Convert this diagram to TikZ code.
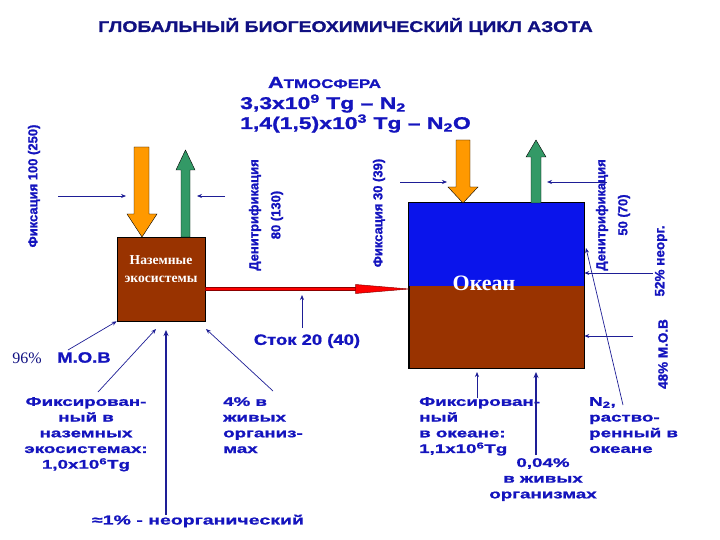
\documentclass[tikz,border=0pt]{standalone}
\usepackage{fontspec}
\setmainfont{Liberation Serif}
\newfontfamily\titlef[FakeStretch=1.25,BoldFeatures={FakeBold=1.2}]{Liberation Sans}
\newfontfamily\atmf[FakeStretch=1.35,BoldFeatures={FakeBold=1.2}]{Liberation Sans}
\newfontfamily\labf[FakeStretch=1.5,BoldFeatures={FakeBold=1.2}]{Liberation Sans}
\newfontfamily\midf[FakeStretch=1.23,BoldFeatures={FakeBold=1.2}]{Liberation Sans}
\newfontfamily\rotf[BoldFeatures={FakeBold=1.2}]{Liberation Sans}
\usetikzlibrary{arrows.meta,calc}
\definecolor{titleblue}{RGB}{16,16,130}
\definecolor{txtblue}{RGB}{20,20,190}
\definecolor{lineblue}{RGB}{30,30,150}
\definecolor{brownbox}{RGB}{153,51,0}
\definecolor{oceanblue}{RGB}{10,20,235}
\definecolor{arrorange}{RGB}{255,153,0}
\definecolor{arrgreen}{RGB}{51,153,102}
\begin{document}
\begin{tikzpicture}[x=1pt,y=-1pt,
  thinarr/.style={draw=lineblue, line width=0.7pt, -{Stealth[length=5pt,width=4pt]}},
  thickarr/.style={draw=lineblue, line width=1.4pt, -{Stealth[length=6pt,width=5pt]}},
  box/.style={draw=black, line width=0.6pt, fill=brownbox, inner sep=0pt},
  orangearr/.style={draw=black, line width=0.4pt, fill=arrorange},
  greenarr/.style={draw=black, line width=0.4pt, fill=arrgreen},
  lab/.style={text=txtblue, font=\labf\bfseries\fontsize{12.5}{15.7}\selectfont, inner sep=0pt},
  mid/.style={text=txtblue, font=\midf\bfseries\fontsize{15}{18}\selectfont, inner sep=0pt},
  rot/.style={text=txtblue, font=\rotf\bfseries\fontsize{13}{22}\selectfont, inner sep=0pt, rotate=90, align=center},
  atm/.style={text=txtblue, font=\atmf\bfseries\fontsize{17}{20}\selectfont, inner sep=0pt, anchor=base west},
  boxtext/.style={text=white, font=\bfseries\fontsize{13.6}{18}\selectfont, align=center, inner sep=0pt}
]
\useasboundingbox[fill=white] (0,0) rectangle (720,540);

% title
\node[text=titleblue, font=\titlef\bfseries\fontsize{15.5}{18}\selectfont, inner sep=0pt] (title) at (345.5,26.5) {ГЛОБАЛЬНЫЙ БИОГЕОХИМИЧЕСКИЙ ЦИКЛ АЗОТА};

% atmosphere
\node[text=txtblue, font=\atmf\bfseries, inner sep=0pt, anchor=base] (atmname) at (324.5,88) {{\fontsize{16}{18}\selectfont А}{\fontsize{12.5}{18}\selectfont ТМОСФЕРА}};
\node[atm] (atm1) at (240,109) {3,3x10\textsuperscript{9} Tg – N\textsubscript{2}};
\node[atm] (atm2) at (240,129) {1,4(1,5)x10\textsuperscript{3} Tg – N\textsubscript{2}O};

% boxes
\node[box, minimum width=88pt, minimum height=84pt] (land) at (161,279) {};
\node[boxtext] (landtxt) at (161,269) {Наземные\\экосистемы};
\node[box, minimum width=175pt, minimum height=165pt] (ocean) at (496.5,285.5) {};
\fill[oceanblue] (ocean.north west) rectangle ($(ocean.north east)+(0,83)$);
\draw[line width=0.6pt] (ocean.north west) rectangle (ocean.south east);
\node[text=white, font=\bfseries\fontsize{22}{24}\selectfont, inner sep=0pt, anchor=base] (oceantxt) at (484,290) {Океан};

% big arrows land
\draw[orangearr] (134,147) -- (149,147) -- (149,214) -- (157,214) -- (142,237) -- (127,214) -- (134,214) -- cycle;
\draw[greenarr] (181,237) -- (181,170) -- (176,170) -- (185.5,150) -- (195,170) -- (190,170) -- (190,237) -- cycle;
% big arrows ocean
\draw[orangearr] (456,140) -- (470,140) -- (470,187) -- (478,187) -- (463,203) -- (448,187) -- (456,187) -- cycle;
\draw[greenarr] (531,203) -- (531,157) -- (526,157) -- (536,140) -- (546,157) -- (541,157) -- (541,203) -- cycle;

% red flow
\draw[line width=4.4pt, draw=red!55!black] ($(land.east)+(0,10)$) -- ($(ocean.west)+(-50,3.5)$);
\draw[line width=2.8pt, draw=red] ($(land.east)+(0.5,10)$) -- ($(ocean.west)+(-50,3.5)$);
\draw[fill=red, draw=red!55!black, line width=0.5pt] ($(ocean.west)+(-53,-1)$) -- ($(ocean.west)+(0,3.5)$) -- ($(ocean.west)+(-53,8)$) -- cycle;

% rotated labels
\node[rot] (fix1) at (34,186) {Фиксация 100 (250)};
\node[rot] (den1) at (266,215) {Денитрификация\\80 (130)};
\node[rot] (fix2) at (379,213) {Фиксация 30 (39)};
\node[rot] (den2) at (613,215) {Денитрификация\\50 (70)};
\node[rot, font=\rotf\bfseries\fontsize{13.5}{16}\selectfont] (neorg) at (661,261) {52\% неорг.};
\node[rot, font=\rotf\bfseries\fontsize{13.5}{16}\selectfont] (mov2) at (663,354) {48\% М.О.В};

% other labels
\node[mid] (stok) at (307,341) {Сток 20 (40)};
\node[inner sep=0pt, font=\fontsize{16}{18}\selectfont, text=titleblue] (p96) at (27,358) {96\%};
\node[mid] (mov1) at (84,357.5) {М.О.В};
\node[lab, align=center, anchor=north] (fixland) at (86,397) {Фиксирован-\\ный в\\наземных\\экосистемах:\\1,0x10\textsuperscript{6}Tg};
\node[lab, align=left, anchor=north west] (live4) at (223,397) {4\% в\\живых\\организ-\\мах};
\node[lab, font=\labf\bfseries\fontsize{13}{16}\selectfont] (inorg) at (198,521) {≈1\% - неорганический};
\node[lab, align=left, anchor=north west] (fixocean) at (419,397) {Фиксирован-\\ный\\в океане:\\1,1x10\textsuperscript{6}Tg};
\node[lab, align=center, anchor=north] (live004) at (543,458) {0,04\%\\в живых\\организмах};
\node[lab, align=left, anchor=north west] (n2) at (589,397) {N\textsubscript{2},\\раство-\\ренный в\\океане};

% thin arrows
\coordinate (a1s) at (58,196);   \coordinate (a1e) at (126,196);
\coordinate (a2s) at (225,196);  \coordinate (a2e) at (197,196);
\coordinate (a3s) at (400,182);  \coordinate (a3e) at (447,182);
\coordinate (a4s) at (607,182);  \coordinate (a4e) at (547,182);
\coordinate (r1) at (653,273);   \coordinate (r2) at (633,336);
\draw[thinarr] (a1s) -- (a1e);
\draw[thinarr] (a2s) -- (a2e);
\draw[thinarr] (a3s) -- (a3e);
\draw[thinarr] (a4s) -- (a4e);
\draw[thinarr] (r1) -- (ocean.east |- r1);
\draw[thinarr] (r2) -- (ocean.east |- r2);
\draw[thinarr] (623,405) -- (586,248);
\draw[thinarr] (302,328) -- (302,295);
\draw[thinarr] (68,350) -- (land.south west);
\draw[thinarr] (98,392) -- (156,329);
\draw[thickarr] (166,515) -- (166,330);
\draw[thinarr] (273,391) -- (206,329);
\draw[thinarr] (477,398) -- (477,372);
\draw[thickarr] (536,455) -- (536,372);
\end{tikzpicture}
\end{document}
